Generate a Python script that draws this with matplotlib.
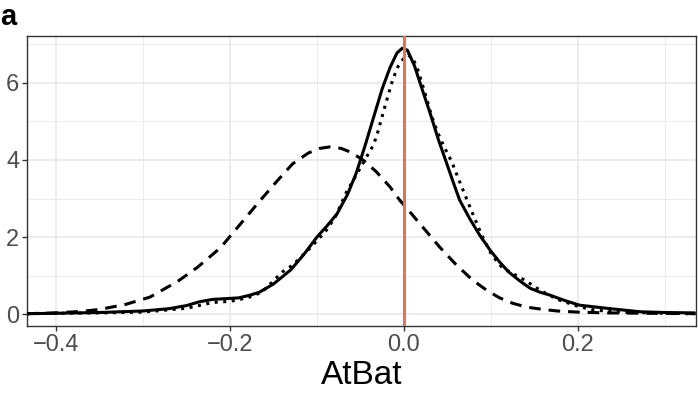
import numpy as np
import matplotlib.pyplot as plt
from matplotlib.ticker import MultipleLocator

# density curves
solid_x = [-0.433, -0.40, -0.35, -0.30, -0.27, -0.25, -0.235, -0.22, -0.205, -0.19,
           -0.177, -0.166, -0.15, -0.13, -0.115, -0.10, -0.088, -0.077, -0.065, -0.055,
           -0.045, -0.035, -0.025, -0.016, -0.008, -0.002, 0.004, 0.012, 0.02, 0.03,
           0.04, 0.049, 0.057, 0.064, 0.075, 0.087, 0.099, 0.11, 0.12, 0.132,
           0.145, 0.156, 0.168, 0.185, 0.202, 0.233, 0.271, 0.30, 0.335]
solid_y = [0.01, 0.02, 0.04, 0.08, 0.14, 0.22, 0.32, 0.38, 0.40, 0.42,
           0.49, 0.57, 0.78, 1.15, 1.55, 2.0, 2.3, 2.6, 3.1, 3.65,
           4.35, 5.1, 5.85, 6.4, 6.78, 6.9, 6.85, 6.45, 5.9, 5.22,
           4.5, 3.92, 3.4, 2.96, 2.5, 2.05, 1.66, 1.35, 1.1, 0.88,
           0.67, 0.57, 0.49, 0.35, 0.23, 0.15, 0.06, 0.04, 0.03]

dotted_x = [-0.433, -0.40, -0.35, -0.30, -0.25, -0.22, -0.20, -0.18, -0.163, -0.14,
            -0.128, -0.108, -0.09, -0.079, -0.066, -0.058, -0.043, -0.035, -0.03, -0.022,
            -0.013, -0.007, 0.0, 0.005, 0.011, 0.016, 0.024, 0.031, 0.038, 0.046,
            0.055, 0.062, 0.07, 0.08, 0.09, 0.101, 0.112, 0.125, 0.139, 0.153,
            0.166, 0.179, 0.20, 0.22, 0.25, 0.30, 0.335]
dotted_y = [0.01, 0.02, 0.03, 0.05, 0.15, 0.30, 0.33, 0.42, 0.57, 1.09,
            1.27, 1.71, 2.15, 2.52, 3.17, 3.48, 4.08, 4.39, 4.73, 5.38,
            6.08, 6.42, 6.65, 6.73, 6.6, 6.34, 5.75, 5.2, 4.75, 4.35,
            3.95, 3.55, 3.1, 2.55, 2.02, 1.53, 1.23, 1.05, 0.88, 0.67,
            0.5, 0.36, 0.2, 0.1, 0.05, 0.02, 0.01]

dashed_x = [-0.433, -0.40, -0.37, -0.35, -0.32, -0.292, -0.26, -0.237, -0.211, -0.189,
            -0.169, -0.146, -0.128, -0.11, -0.097, -0.085, -0.072, -0.062, -0.047, -0.032,
            -0.016, -0.005, 0.005, 0.02, 0.041, 0.06, 0.079, 0.095, 0.11, 0.125,
            0.141, 0.16, 0.176, 0.20, 0.233, 0.28, 0.335]
dashed_y = [0.01, 0.03, 0.07, 0.12, 0.25, 0.44, 0.85, 1.22, 1.72, 2.31,
            2.85, 3.45, 3.9, 4.18, 4.3, 4.34, 4.3, 4.21, 4.0, 3.7,
            3.3, 2.96, 2.7, 2.3, 1.74, 1.28, 0.88, 0.62, 0.42, 0.28,
            0.18, 0.12, 0.08, 0.05, 0.03, 0.02, 0.01]

vline_x = 0.0
x_ticks = [-0.4, -0.2, 0.0, 0.2]
y_ticks = [0, 2, 4, 6]

plt.rcParams['font.family'] = ['Liberation Sans', 'DejaVu Sans']

fig = plt.figure(figsize=(6.98, 3.93), dpi=100)
ax = fig.add_axes([0.0387, 0.1705, 0.9583, 0.738])

ax.plot(solid_x, solid_y, color='black', lw=2.2, solid_capstyle='butt',
        solid_joinstyle='round', zorder=3)
ax.plot(dotted_x, dotted_y, color='black', lw=2.2, dashes=(1, 1.8),
        dash_capstyle='butt', zorder=3)
ax.plot(dashed_x, dashed_y, color='black', lw=2.2, dashes=(3.8, 2.6),
        dash_capstyle='butt', zorder=3)
ax.axvline(vline_x, color='#D9775A', lw=2.2, zorder=4)

ax.set_xlim(-0.4333, 0.3356)
ax.set_ylim(-0.31, 7.22)

ax.set_xticks(x_ticks)
ax.set_xticklabels([f'{t:.1f}'.replace('-', '\u2212') for t in x_ticks])
ax.set_yticks(y_ticks)
ax.xaxis.set_minor_locator(MultipleLocator(0.1))
ax.yaxis.set_minor_locator(MultipleLocator(1))

ax.grid(which='major', color='#EBEBEB', lw=1.3)
ax.grid(which='minor', color='#EBEBEB', lw=0.7)
ax.set_axisbelow(True)

ax.tick_params(which='major', length=3.5, width=1.0, color='#333333',
               labelsize=17, labelcolor='#4D4D4D', pad=2)
ax.tick_params(which='minor', length=0)
for s in ax.spines.values():
    s.set_color('#333333')
    s.set_linewidth(1.0)

ax.set_xlabel('AtBat', fontsize=24, color='black', labelpad=3)
fig.text(0.0, 0.936, 'a', fontsize=21, fontweight='bold', ha='left', va='baseline')

fig.savefig('out.png', dpi=100, facecolor='white')
